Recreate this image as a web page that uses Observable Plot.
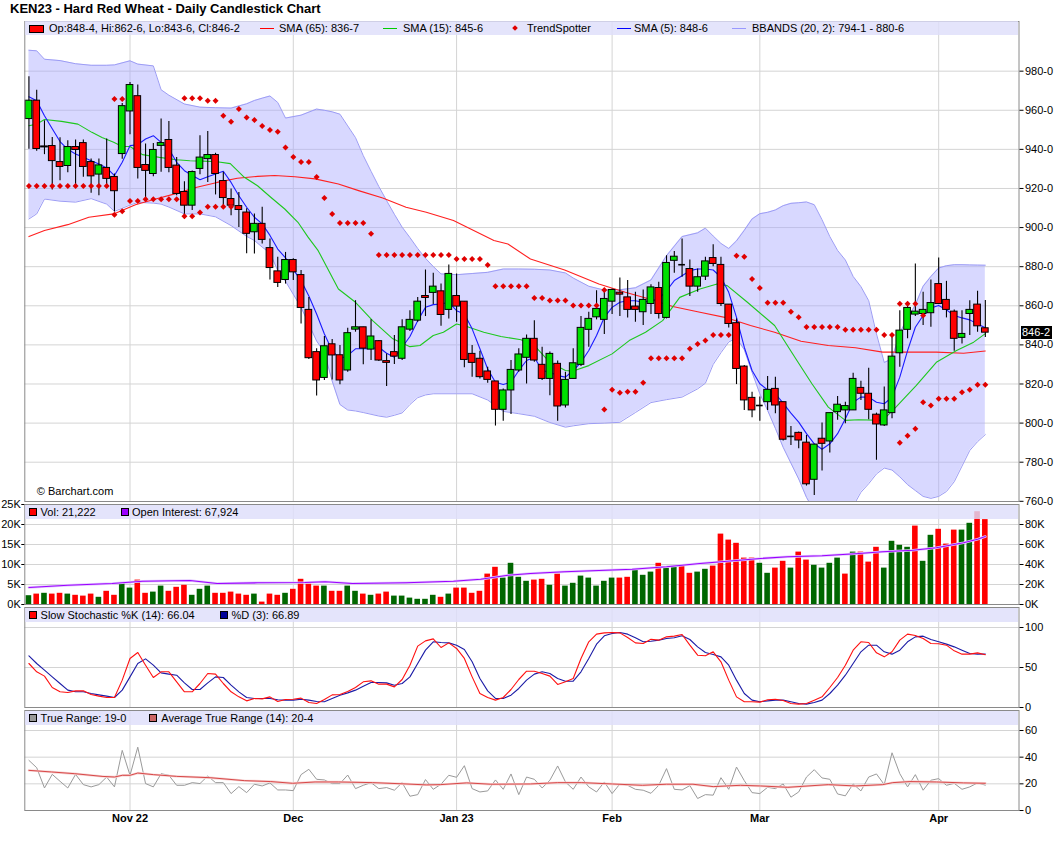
<!DOCTYPE html>
<html><head><meta charset="utf-8">
<script src="https://cdn.jsdelivr.net/npm/d3@7"></script>
<script src="https://cdn.jsdelivr.net/npm/@observablehq/plot@0.6"></script>
<style>
html,body{margin:0;padding:0;background:#fff;}
#wrap{position:relative;width:1060px;height:851px;overflow:hidden;font-family:"Liberation Sans",Arial,Helvetica,sans-serif;color:#000;}
.ttl{position:absolute;left:10px;top:0px;font-size:13px;font-weight:bold;line-height:17px;white-space:nowrap;}
.lg{position:absolute;left:25px;width:993px;height:14px;background:rgba(222,222,250,0.82);}
.lg span{position:absolute;font-size:11px;line-height:14px;top:0;white-space:nowrap;}
.sw{position:absolute;box-sizing:border-box;border:1px solid #000;}
.ln{position:absolute;height:0;border-top:1px solid;}
.dm{position:absolute;width:4px;height:4px;transform:rotate(45deg);}
.tag{position:absolute;left:1021px;width:30px;height:13px;background:#000;color:#fff;font-size:11px;line-height:13px;text-align:left;padding-left:1px;}
</style></head><body><div id="wrap"></div>
<script>
// ---------------- DATA ----------------
const monthIdx = [13, 34, 55, 75, 94, 117];
const monthLbl = ["Nov 22", "Dec", "Jan 23", "Feb", "Mar", "Apr"];

const opens = [955.5,964.9,941.5,941.7,933.5,931.5,941.2,943.2,933.5,927.1,930.5,925.9,937.6,959.4,967.2,932,927.4,941.8,944.8,931.7,918.2,911.2,930,935,937.1,923.8,914.6,911,907.7,897.6,901.9,889.5,877.6,873.2,883.4,875.7,857.9,836.3,823.1,840.3,834.7,826.9,847.8,849,837.6,841.9,831.7,836.3,832.9,847.8,852.4,865,866.6,867.4,857.9,865,862.1,835.4,832.9,826.4,821.3,806.8,816.7,826.9,833.4,843.1,829.8,822.6,830.3,809,822.6,829.8,847.7,854.1,852.8,862.1,866.7,864.3,859.6,856.7,860.9,869.1,853.8,883,881,878.8,869.8,874.9,884.4,880.9,860.6,851.1,828.9,812.9,809,810.7,817.5,810.7,793.2,795,790,771,792,790.6,805.6,806.5,806.5,818,815,804.3,798.8,805.1,835.7,847.7,855.5,855.8,856.2,871.1,863,857,843.6,855.8,860.6,848.5];
const highs = [977.1,970.3,954.6,946.1,946,944.4,944.8,944.8,935.1,935.1,945.3,927.4,963.5,974.2,972.9,942.7,943,955.5,954.3,935.9,923.5,929,947,949.1,938,928.3,919.7,918,909.6,907,910.4,894.2,884.8,887.3,884,878,864.3,838,844.3,842.7,839.7,848.5,862.6,849,852.8,842.2,835.4,844.8,852.8,857.5,864.3,878.3,876.6,871.1,880.9,876.3,862.1,839.7,836.8,828.6,821.3,817.5,832,838,845.1,852.4,838.8,836.3,831.7,826,838,854.5,856.7,867.7,867.4,868.6,874.2,872.9,866.9,868.1,870.8,872,885.6,887.8,894.1,883.4,878.8,884.8,891.2,884.8,860.6,853.3,829.4,815.8,813.3,823.8,823.5,810.7,798.3,795.4,793.7,789,800,805.1,813.6,810.7,825.5,821.4,828.1,805.1,818.4,845.6,857.5,861.8,881.4,866.9,873.2,884.4,872.5,857.9,857.5,862.6,867.4,862.75];
const lows = [940,939,937.3,919.2,924,928.1,921.4,925.7,917.5,916.3,920,908,935,947.5,924.9,914.6,926,928.3,928.1,916.3,904.4,908.7,927,923,916.7,910.4,906.1,900,886.6,886.5,891.6,873.2,869.4,871.1,872.9,850.7,832.5,813.8,821.8,822.1,819.6,826,846.5,829.8,832,831.5,818.7,830,832,846.8,851.6,854.5,860.6,849.5,853.3,851.6,828.3,823.5,822.6,820.4,798.5,801,804.4,826,820,831.1,821.8,814,801,807.7,822.6,829,838.8,852.8,845.3,855.5,854.5,853.8,851.6,849.9,855.5,853.3,853.3,876.6,874.6,864.7,866.9,872.9,880,859.6,848.7,819.7,806.5,802.7,801,806.5,804.8,790.8,788.6,786.9,767.8,763,775.5,784.7,801.4,799.7,806.5,811.6,801.7,781,798.3,802.2,828.6,843.1,854.5,849.9,849,860.6,853.8,836.8,840.5,844.8,846.5,843.75];
const closes = [964.9,940.2,941,934,931,941.2,939.7,931,926.2,931.8,924.9,918.6,962.1,972.9,930.5,929,939.7,943.2,930.5,917.2,911.2,928.4,935.8,937.1,927.4,915.1,911.2,909,896.8,901.9,893.7,879.3,871.7,883.4,877.1,858.9,833.2,821.8,839.3,834.6,821.8,846,849,838.1,844.3,832,830.8,834,849,852.8,862.1,864,869.8,855.3,876.3,859.6,832.3,830.8,823.5,822.1,806.8,816.7,827.2,835.1,843.1,832,822.6,835.4,808.5,822.1,830.6,848.7,853.3,858.4,863.5,868.1,865.7,857.9,857.9,863,869.4,855.8,881.9,885.1,881,869.8,874.6,882.7,881.4,860.9,850.7,827.7,811.6,806.5,809,817,809,791.5,793.2,791.1,768.7,789,789.4,805.1,809.4,808.7,822.6,815,806.8,799.3,806.5,834,847.3,858.9,857,857.9,861.4,860.9,857.9,843.1,845.6,857.9,849.5,846.25];

const sma5 = [966.9,964.9,957.2,950.5,944,940,937.6,936,934.2,932.5,930.5,926.6,933.4,941.9,942.4,945.3,947,943.6,940.2,933.4,929.1,926.6,924.5,926,927.4,928.8,923.1,916.3,910.4,905.3,901.9,896,889,884.5,878.5,872.9,865,855.8,845.6,837.1,832.9,834.6,838,838,838,838.8,835.7,833.7,838.8,844.3,852.4,859.2,860.6,860.9,861.8,857.5,855.8,848.2,838,827.7,820.9,819.7,820.9,826.9,832,833.7,826.9,826,824.3,823.5,826.9,831.1,837.1,844.8,854.1,859.2,861.8,862.6,862.6,861.8,862.6,863.5,867.7,872.9,875.4,878,878.8,878.8,878.3,874.6,866.9,854.1,838.8,826.9,820.1,817,815,810.2,805.1,800.5,794.6,789.4,786.6,789.4,794.6,802.2,810.7,813.3,813.3,810.7,809.9,813.3,823.5,837.1,849,855,858.9,860.1,857.9,855,853.8,852.8,850.7,848.75];

const sma15Idx = [0,1,2,4.2,6.3,8.1,9.4,10.9,12,13,14.6,16.8,19,20.7,22.4,24.2,25.9,27.7,29.4,31.1,32.9,34.6,35.9,37.2,39.8,42,44.2,46.8,49,50.3,52,53.3,55,56.3,58.5,60.7,63.3,65.4,67,69,70,72,75,77.2,79.3,81.5,83.7,86.3,88.5,89.8,92.4,95.9,98.5,100.7,102.8,105,106.7,109.8,111.5,114.1,116.7,119.3,121.5,123];
const sma15Val = [952.1,952.9,955.3,954.3,952.9,948.7,946.1,943.6,941.5,941.5,937.3,935.9,934.7,934.2,934,933.7,932.7,925.7,921.4,915.5,909.5,902.7,895.1,888.2,868.6,861.8,852.4,843.1,839.1,839.7,844.8,846.5,850.7,849.4,846.5,844.3,842.6,838,831.1,826.9,826.6,829.4,835.4,842.2,846.5,852.4,864.3,868.6,871.1,870.3,861.8,849.9,833.7,820.1,808.2,801.4,801.7,801.4,808.2,819.2,831.1,837.1,841.4,845.75];

const sma65Idx = [0,2,5,7.7,10.9,13.7,16.3,19,21.6,24.2,26.8,29.4,31.6,34.2,36.8,39.8,42.4,45.5,48.5,51.1,54.6,57.2,59.8,61.6,64.5,68.9,73.3,76.7,79.8,82.8,86.3,89.8,92.8,95.9,99.3,102.8,106.3,109.8,112.4,116.7,120.2,123];
const sma65Val = [895.4,898.5,901.5,905.3,907,911.7,914.6,917.5,920.6,923.1,925.2,926.2,926.6,926,924.9,922.3,918.9,915.1,910.4,907.8,903.6,898.5,893.4,891.6,883.9,878.3,871.1,866.9,863.5,859.6,856.7,853.8,849.9,846.5,841.9,839.7,838.5,836.3,836.3,836.3,835.7,836.875];

const bbIdx = [0,1,2,4,6,8,10,11,13,14,16,17,18,20,22,24,26,28,29,30,31,32,33,35,37,38,39,40,41,42,43,44,45,46,47,48,49,50,51,52,53,55,57,59,61,63,65,67,69,70,72,74,76,78,80,82,84,86,87,88,89,90,91,92,93,94,95,96,97,98,99,100,101,102,103,104,105,106,107,108,109,110,111,112,113,114,115,116,117,118,119,120,121,122,123];
const bbUpper = [990.7,990.4,986.1,985.4,983.8,983,983,983.2,985.3,983.6,982.7,970.5,967.7,963.2,961.6,961.3,961.1,963.3,965,966.2,967.3,964,956,957.5,960.6,960,959.2,958,952,946,936.8,928.8,921,913.8,906.8,900.2,894.9,889.3,884.3,880.1,876.3,875.9,876.5,877.1,878.8,878.8,878.7,878.3,876.8,874.2,870,868,868.2,869.2,873.2,885.6,895.4,897.3,899.7,895.7,891.9,889.3,893.2,898.6,904.4,907.1,907.8,909,911.2,912.4,912.7,913.1,911.7,904,895.4,888.3,883.4,875,869.8,862.6,845.6,831,832.9,846.2,853.5,860.5,870,875,879.3,880.5,881,881,880.9,880.8,880.75];
const bbLower = [904.4,907,914.6,913.5,913,914.8,912,908.3,911.5,912.9,912.5,912,910.5,907,907,905.5,901,895.5,893.4,890,887,878,872.5,859.2,842,836.1,821.5,809.5,806.7,806.2,805.4,804.5,803.6,803,804,805.2,809.5,813,814.4,815,815,815,815,811.8,806,804.8,803.5,800.3,797.9,798.6,799.7,800,800.4,805.4,810.5,812,813.3,817.5,820.4,830,836,841.5,843.5,837.5,826,815,806.5,797.3,787.6,779.5,771.4,762,755,751,750,751,754,757.5,764.6,769,774,777,776,772.5,768.5,765.5,762.5,761.5,762.5,765,770,778,786,790.5,794.125];

const tsIdx = [0,1,2,3,4,5,6,7,8,9,10,11,11,12,12,13,14,15,16,17,18,19,20,20,21,21,22,22,23,23,24,24,25,25,26,26,27,28,29,30,31,32,33,34,35,36,37,38,39,40,41,42,43,44,45,46,47,48,49,50,51,52,53,54,55,56,57,58,59,60,61,62,63,64,65,66,67,68,69,70,71,72,73,74,74,75,76,77,78,79,80,81,82,83,84,85,86,87,88,89,90,91,92,93,94,95,96,97,98,99,100,101,102,103,104,105,106,107,108,109,110,111,112,112,113,113,114,114,115,115,116,117,118,119,120,121,122,123];
const tsVal = [921.3,921.3,921.3,921.3,921.3,921.3,921.3,921.3,921.3,921.3,921.3,965.7,906.5,965.7,908.3,913.6,913.6,914.5,914.5,914.5,914.5,914.5,966.2,905.8,966.2,905.8,966.2,907.7,964.9,910.7,964.9,910.7,957.2,910.7,954.1,910.7,960.6,956.3,955,951.9,949.9,949,940.9,936.1,933.5,933.5,925.9,915.1,907,902.4,902.4,902.4,902.4,896.8,886,886,886,886,886,886,886,886,886,886,883.9,883.9,883.9,883.9,880.9,870,870,870,870,870,864,864,862.7,862.7,862.7,860.1,860.1,860.1,860.1,868.1,807,817,815.5,816,816,820.6,833.2,833.2,833.2,833.2,833.2,838,840.5,842.2,845.1,845.1,845.1,885.6,885.1,873.7,869.1,861.6,861.6,861.6,857,854.1,849.2,849.2,849.2,849.2,849.2,847.7,847.7,847.7,847.7,847.7,845.1,845.1,861.1,790,861.1,793.5,861.1,797.1,855,810.7,809,812.4,812.4,812.4,815.8,817,819.6,819.6];

// volume in thousands (left axis), colour G = up, R = down
const volume = [2.2,2.6,2.8,2.6,2.8,2.6,2.3,2.1,2.6,1.8,3.3,2.3,5.3,4.1,6.1,2.8,3.1,4.6,3.3,4.3,4.8,2.3,3.8,4.6,2.8,2.8,3.1,2.6,2.3,2.6,0.6,2.6,2.3,2.8,3.8,6.3,5.1,4.6,4.6,3.3,3.3,4.6,3.3,2.6,2.3,2.6,3.1,2.1,2.1,1.6,1.3,1.3,2.3,1.8,2.6,4.1,4.1,2.8,3.3,7.6,9.3,6.6,10.3,6.8,5.8,6.1,6.3,4.8,7.6,4.6,5.3,7.1,6.6,4.6,5.8,6.6,6.6,6.8,8.9,7.3,8.1,10.3,9.1,9.6,9.6,7.8,8.1,8.8,9.6,17.6,16.1,15.3,11.6,11.6,10.3,7.8,9.1,10.8,9.1,13.1,11.1,9.8,9.1,10.3,11.6,7.6,13.1,13.1,10.6,14.3,9.1,15.8,14.8,14.3,19.6,10.8,17.3,18.8,15.1,18.6,18.6,20.3,23.2,21.222];
const volDir = ["GRGRRGRRRG","RRGGRRGGRR","RGGGRRRRRG","RRRGRRRRGR","RGGRGRRGGG","GGGRGRRRRR","RGGGG","RRGRG","GGGGGGRRGG","GRGGRRGGRR","RRRRGGRRGR","RGGGGRGRRR","GGGGRGGRRR","GGRR"].join("");
// open interest in thousands (right axis)
const oiIdx = [0,5,10.7,14.6,20.7,24.2,29.4,35.5,38.1,41.6,48.5,54.6,58.1,61.6,64.5,68.9,73.3,77.6,82,86.3,89.8,94.1,97.6,102,106.3,109.8,113.7,116.7,120.2,122,123];
const oiVal = [17,19.3,21,23.3,24,21,21.7,22,22.7,21,21.7,23.3,25.3,29.3,31,32.7,34,35.3,37.7,41,43.3,46,47.7,48.7,50.7,52.7,54.3,56.7,61.7,65.3,67.924];

const stochK = [55,44.6,39.2,25,19.6,18.8,20.8,20.8,16.3,14.2,12.5,12.5,34.2,61.3,68.8,52.9,37.5,44.6,44.6,32.1,19.6,19.6,30,42.5,41.7,30,19.6,13.3,8.3,11.3,10.8,13.3,7.5,10,10.4,11.7,6.3,5,10,15.8,16.3,20,25,32.1,33.3,29.2,29.2,25.8,35,52.9,76.7,83.3,85.8,75,80.8,73.8,61.3,38.3,17.5,12.5,9.2,12.5,22.5,35,45.4,45.4,42.5,39.2,28.8,32.1,36.3,61.3,82.1,91.7,93.3,93.8,93.3,87.5,80.8,80,85.4,84.2,88.3,89.2,91.3,77.9,65.4,64.6,69.6,57.1,34.2,13.3,7.1,7.1,6.7,9.6,10.4,8.8,5,4.2,5,9.2,13.3,25,37.5,52.9,71.7,82.1,81.3,68.3,63.3,69.6,84.2,91.7,90,86.3,80,79.6,77.9,70.8,66.7,66.7,68.3,66.04];
const stochD = [64.6,55,46.7,38.3,30,21.7,19.6,19.6,17.5,15.8,14.2,12.5,21.7,38.3,55,60.8,52.9,43.3,41.7,40.4,30.8,22.5,22.5,30.8,38.3,37.5,27.9,19.6,12.5,11.3,11.3,11.3,9.6,9.2,9.2,10.4,9.2,7.5,7.1,11.3,15.4,18.3,21.7,26.7,31.3,31.3,30.8,27.9,30,38.3,55,71.7,82.1,81.3,80.8,77.9,72.5,57.1,36.3,20.8,11.3,11.3,15.4,23.8,34.2,41.7,44.6,42.5,36.3,32.9,32.9,44.6,61.3,79.2,89.6,92.5,93.8,91.7,87.1,82.1,82.9,84.2,86.3,87.1,89.6,85,75.8,68.8,66.3,63.3,52.9,34.2,17.5,9.2,7.1,8.3,9.2,9.2,7.1,5,4.2,6.3,9.2,17.5,27.9,40.4,55,69.6,77.9,77.9,69.6,66.7,71.7,82.1,88.3,89.2,85,82.1,79.2,75.8,71.7,67.5,66.7,66.89];

const trueRange = [37.6,32.1,16.9,27.1,21.9,16.9,27.1,19.4,17.7,19.4,25.1,17.7,45.1,26.4,47.5,20.2,17.7,27.6,26.4,18.9,18.9,20.9,20.2,25.9,20.9,20.9,12.7,17.9,13.4,19.7,18.4,20.7,15.4,15.4,14.9,26.9,30.9,23.4,22.9,20.2,20.2,26.6,16.4,18.9,20.9,16.4,17.2,15.2,20.9,10.7,11.9,23.2,15.9,19.7,26.4,24.9,33.6,16.4,13.9,14.7,22.9,15.9,27.4,11.9,25.1,23.4,16.9,22.7,33.4,21.4,15.9,25.1,17.7,13.9,21.4,12.7,19.9,18.9,15.9,15.2,12.9,18.9,31.4,15.9,15.4,18.7,9,11.9,11.5,24.6,15.9,32.6,22.4,13.4,12.7,17.4,16.4,19.9,10,13.9,25.1,30.6,24.4,23.4,12.4,11,19.9,14.7,25.1,27.4,19.4,43.3,27.6,17.7,26.9,15.2,22.7,23.9,18.9,20.4,15.9,17.7,20.7,19];
const atrIdx = [0,2.9,5.9,9.4,11,12,13,14,16,19,23.3,27.7,31.1,33.9,36.8,39.8,44.2,48.5,51.1,52.9,56.3,59.4,64.5,68,71.1,75,78.9,82,85.4,88,91.5,94.1,97.6,102.8,106.3,109.8,111.1,113.3,116.7,120.2,123];
const atrVal = [30.1,28.9,27.6,25.6,25.1,26.4,26.4,28.1,26.9,25.6,24.6,22.4,21.7,20.4,21.4,21.4,20.9,19.9,19.2,19.4,20.7,19.7,19.9,20.9,20.9,19.9,18.9,19.7,19.7,17.9,18.9,18.4,17.4,19.4,18.4,19.4,20.9,21.7,21.4,20.7,20.4];

const priceTicks = [760,780,800,820,840,860,880,900,920,940,960,980];
const lastClose = 846.25;

// ---------------- BUILD ----------------
const FONT = '"Liberation Sans", Arial, Helvetica, sans-serif';
const W = 1060, ML = 24.3, MR = 41.5, XD = [-0.53, 127.33];
const GRID = "#d4d4d4", FRAME = "#8a8a8a", UP = "#00e000", DN = "#ff0000";
const wrap = document.getElementById("wrap");

const candles = opens.map((o, i) => ({i, o, h: highs[i], l: lows[i], c: closes[i]}));
const bodies = candles.filter(d => Math.abs(d.c - d.o) >= 0.3);
const dojis = candles.filter(d => Math.abs(d.c - d.o) < 0.3);
const pts = (I, V) => I.map((i, k) => ({i, v: V[k]}));
const sma5Pts = sma5.map((v, i) => ({i, v}));
const sma15Pts = pts(sma15Idx, sma15Val);
const sma65Pts = pts(sma65Idx, sma65Val);
const bb = bbIdx.map((i, k) => ({i, hi: bbUpper[k], lo: bbLower[k]}));
const ts = pts(tsIdx, tsVal);
const vol = volume.map((v, i) => ({i, v, col: volDir[i] === "G" ? "#006600" : "#ff0000"}));
const oi = pts(oiIdx, oiVal);
const kPts = stochK.map((v, i) => ({i, v}));
const dPts = stochD.map((v, i) => ({i, v}));
const trPts = trueRange.map((v, i) => ({i, v}));
const atrPts = pts(atrIdx, atrVal);

const base = (h, mt, mb) => ({
  width: W, height: h, marginLeft: ML, marginRight: MR, marginTop: mt, marginBottom: mb,
  style: {fontFamily: FONT, fontSize: "11px", background: "transparent", color: "#000", overflow: "visible"},
  x: {domain: XD, axis: null},
  color: {type: "identity"}
});
function place(svg, top) {
  svg.style.position = "absolute"; svg.style.left = "0px"; svg.style.top = top + "px";
  wrap.appendChild(svg);
}

// Price panel (frame 21..501)
const price = Plot.plot({
  ...base(496, 8, 8),
  y: {domain: [759.9, 1005.4], axis: null},
  marks: [
    Plot.ruleY(priceTicks.slice(1), {stroke: GRID}),
    Plot.ruleX(monthIdx, {stroke: GRID}),
    Plot.areaY(bb, {x: "i", y1: "lo", y2: "hi", fill: "#a9a9ff", fillOpacity: 0.45, clip: true}),
    Plot.line(bb, {x: "i", y: "hi", stroke: "#9c9cf4", strokeWidth: 1, clip: true}),
    Plot.line(bb, {x: "i", y: "lo", stroke: "#9c9cf4", strokeWidth: 1, clip: true}),
    Plot.line(sma65Pts, {x: "i", y: "v", stroke: "#ff2020", strokeWidth: 1.1}),
    Plot.line(sma15Pts, {x: "i", y: "v", stroke: "#1ec81e", strokeWidth: 1.1}),
    Plot.line(sma5Pts, {x: "i", y: "v", stroke: "#1a1aff", strokeWidth: 1.1}),
    Plot.ruleX(candles, {x: "i", y1: "l", y2: "h", stroke: "#000", strokeWidth: 1.1}),
    Plot.rect(bodies, {x1: d => d.i - 0.43, x2: d => d.i + 0.43, y1: "o", y2: "c", fill: d => d.c > d.o ? UP : DN, stroke: "#000", strokeWidth: 1}),
    Plot.ruleY(dojis, {y: "c", x1: d => d.i - 0.43, x2: d => d.i + 0.43, stroke: "#000", strokeWidth: 1.6}),
    Plot.dot(ts, {x: "i", y: "v", symbol: "diamond2", r: 2.7, fill: "#e00000", stroke: "none"}),
    Plot.text(["© Barchart.com"], {text: d => d, frameAnchor: "bottom-left", dx: 12, dy: -7, fontSize: 11}),
    Plot.frame({stroke: FRAME}),
    Plot.axisY({anchor: "right", ticks: priceTicks, tickFormat: d => d + "-0", tickSize: 4, tickPadding: 2, label: null})
  ]
});
place(price, 13);

// Volume / open interest panel (frame 504..604)
const volPlot = Plot.plot({
  ...base(116, 8, 8),
  y: {domain: [0, 25], axis: null},
  marks: [
    Plot.ruleY([5, 10, 15, 20], {stroke: GRID}),
    Plot.ruleX(monthIdx, {stroke: GRID}),
    Plot.rect(vol, {x1: d => d.i - 0.36, x2: d => d.i + 0.36, y1: 0, y2: "v", fill: "col"}),
    Plot.line(oi, {x: "i", y: d => d.v / 4, stroke: "#e2c6ff", strokeWidth: 2.6}),
    Plot.line(oi, {x: "i", y: d => d.v / 4, stroke: "#9b00ff", strokeWidth: 1.1}),
    Plot.frame({stroke: FRAME}),
    Plot.axisY({anchor: "left", ticks: [0, 5, 10, 15, 20, 25], tickFormat: d => d + "K", tickSize: 3, tickPadding: 1, label: null}),
    Plot.axisY({anchor: "right", ticks: [0, 5, 10, 15, 20], tickFormat: d => (d * 4) + "K", tickSize: 4, tickPadding: 2, label: null})
  ]
});
place(volPlot, 496);

// Stochastic panel (frame 607..707)
const stoch = Plot.plot({
  ...base(116, 8, 8),
  y: {domain: [0, 125], axis: null},
  marks: [
    Plot.ruleY([50, 100], {stroke: GRID}),
    Plot.ruleX(monthIdx, {stroke: GRID}),
    Plot.line(dPts, {x: "i", y: "v", stroke: "#1c1ca6", strokeWidth: 1.1}),
    Plot.line(kPts, {x: "i", y: "v", stroke: "#ff1010", strokeWidth: 1.1}),
    Plot.frame({stroke: FRAME}),
    Plot.axisY({anchor: "right", ticks: [0, 50, 100], tickSize: 4, tickPadding: 2, label: null})
  ]
});
place(stoch, 599);

// True range panel (frame 710..810) with the date axis
const trPlot = Plot.plot({
  ...base(138, 8, 30),
  y: {domain: [0, 75], axis: null},
  marks: [
    Plot.ruleY([20, 40, 60], {stroke: GRID}),
    Plot.ruleX(monthIdx, {stroke: GRID}),
    Plot.line(trPts, {x: "i", y: "v", stroke: "#9a9a9a", strokeWidth: 1}),
    Plot.line(atrPts, {x: "i", y: "v", stroke: "#f6d2d2", strokeWidth: 2.4}),
    Plot.line(atrPts, {x: "i", y: "v", stroke: "#d84848", strokeWidth: 1}),
    Plot.frame({stroke: FRAME}),
    Plot.axisY({anchor: "right", ticks: [0, 20, 40, 60], tickSize: 4, tickPadding: 2, label: null}),
    Plot.axisX({anchor: "bottom", ticks: monthIdx, tickFormat: d => monthLbl[monthIdx.indexOf(d)], tickSize: 0, tickPadding: 4, fontWeight: "bold", label: null})
  ]
});
place(trPlot, 702);

// ---------------- TEXT: title, legends, last price tag ----------------
const ttl = document.createElement("div");
ttl.className = "ttl";
ttl.textContent = "KEN23 - Hard Red Wheat - Daily Candlestick Chart";
wrap.appendChild(ttl);

function legend(top, items) {
  const band = document.createElement("div");
  band.className = "lg"; band.style.top = top + "px";
  for (const it of items) {
    const x = it.x - 25;
    if (it.kind === "box") {
      const s = document.createElement("div"); s.className = "sw";
      s.style.left = x + "px"; s.style.top = "3.5px"; s.style.width = "15px"; s.style.height = "8px"; s.style.background = it.color;
      band.appendChild(s);
    } else if (it.kind === "sq") {
      const s = document.createElement("div"); s.className = "sw";
      s.style.left = x + "px"; s.style.top = "3.5px"; s.style.width = "7.5px"; s.style.height = "7.5px"; s.style.background = it.color;
      band.appendChild(s);
    } else if (it.kind === "line") {
      const s = document.createElement("div"); s.className = "ln";
      s.style.left = x + "px"; s.style.top = "7px"; s.style.width = "14px"; s.style.borderTopColor = it.color;
      band.appendChild(s);
    } else if (it.kind === "diamond") {
      const s = document.createElement("div"); s.className = "dm";
      s.style.left = (x - 2) + "px"; s.style.top = "5px"; s.style.background = it.color;
      band.appendChild(s);
    }
    const t = document.createElement("span");
    t.style.left = (it.tx - 25) + "px"; t.textContent = it.text;
    band.appendChild(t);
  }
  wrap.appendChild(band);
}
legend(21, [
  {kind: "box", color: "#ff0000", x: 29.4, tx: 49, text: "Op:848-4, Hi:862-6, Lo:843-6, Cl:846-2"},
  {kind: "line", color: "#ff0000", x: 259.6, tx: 279, text: "SMA (65): 836-7"},
  {kind: "line", color: "#00cc00", x: 383, tx: 403, text: "SMA (15): 845-6"},
  {kind: "diamond", color: "#e00000", x: 514.5, tx: 527, text: "TrendSpotter"},
  {kind: "line", color: "#0000ff", x: 617, tx: 634, text: "SMA (5): 848-6"},
  {kind: "line", color: "#9999ff", x: 732, tx: 752, text: "BBANDS (20, 2): 794-1 - 880-6"}
]);
legend(504.5, [
  {kind: "sq", color: "#ff0000", x: 29.4, tx: 40.6, text: "Vol: 21,222"},
  {kind: "sq", color: "#9b00ff", x: 121, tx: 132, text: "Open Interest: 67,924"}
]);
legend(607.5, [
  {kind: "sq", color: "#ff0000", x: 29.4, tx: 40.6, text: "Slow Stochastic %K (14): 66.04"},
  {kind: "sq", color: "#000099", x: 220, tx: 231.6, text: "%D (3): 66.89"}
]);
legend(710.5, [
  {kind: "sq", color: "#999999", x: 29.4, tx: 40.6, text: "True Range: 19-0"},
  {kind: "sq", color: "#cc6666", x: 149.4, tx: 161.3, text: "Average True Range (14): 20-4"}
]);

const yTag = price.scale("y").apply(lastClose) + 13;
const tag = document.createElement("div");
tag.className = "tag"; tag.style.top = (yTag - 6.5) + "px";
tag.textContent = "846-2";
wrap.appendChild(tag);
</script></body></html>
